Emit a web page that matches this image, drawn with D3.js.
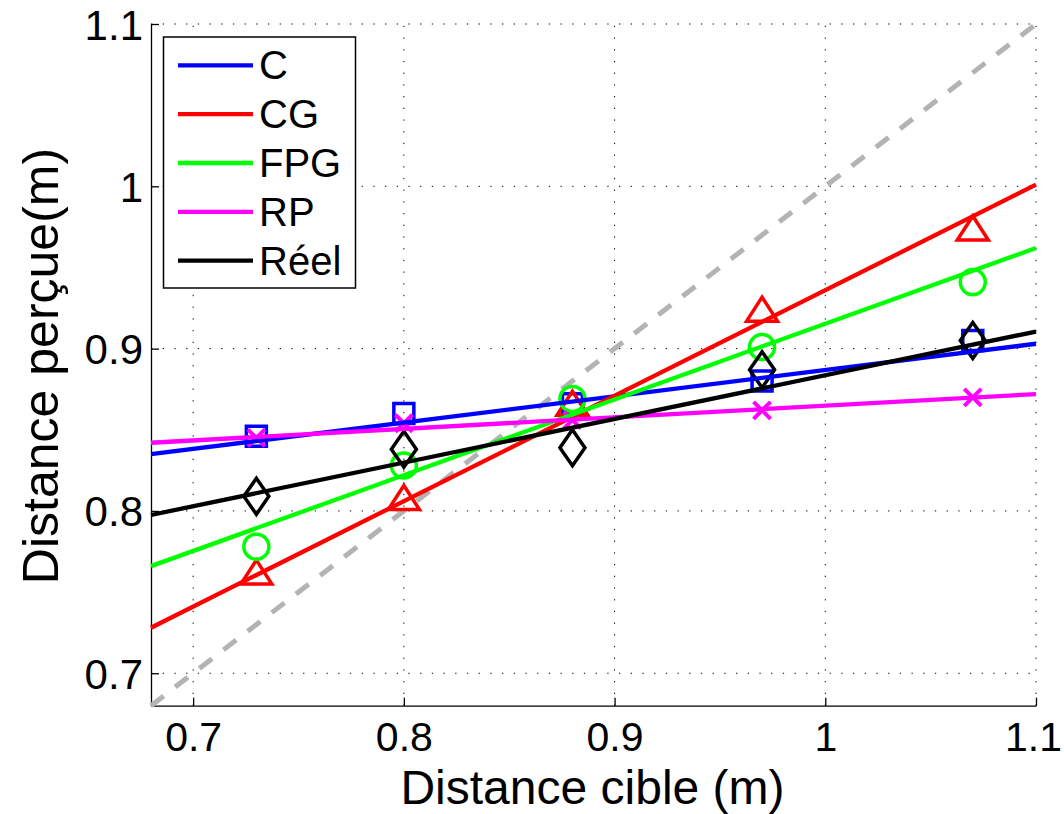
<!DOCTYPE html>
<html>
<head>
<meta charset="utf-8">
<script src="https://cdn.jsdelivr.net/npm/d3@7"></script>
<style>
  html, body { margin: 0; padding: 0; background: #fff; }
  svg { display: block; }
  text { font-family: "Liberation Sans", Arial, Helvetica, sans-serif; fill: #000; }
</style>
</head>
<body>
<svg id="chart" width="1064" height="814"></svg>
<script>
// ---- data ----
const targets = [0.73, 0.80, 0.88, 0.97, 1.07];
const seriesNames = ["C", "CG", "FPG", "RP", "Réel"];
const seriesColors = ["#0000ff", "#ff0000", "#00ff00", "#ff00ff", "#000000"];
const seriesMarkers = ["square", "triangle", "circle", "cross", "diamond"];
const valuesC = [0.846, 0.860, 0.866, 0.880, 0.905];
const valuesCG = [0.762, 0.808, 0.866, 0.924, 0.974];
const valuesFPG = [0.778, 0.828, 0.869, 0.901, 0.941];
const valuesRP = [0.845, 0.854, 0.856, 0.862, 0.870];
const valuesReel = [0.809, 0.838, 0.839, 0.887, 0.905];
// fitted lines, value at the left (0.68) and right (1.1) ends of the axis
const fitX = [0.68, 1.1];
const fitC = [0.835, 0.903];
const fitCG = [0.728, 1.001];
const fitFPG = [0.766, 0.962];
const fitRP = [0.842, 0.872];
const fitReel = [0.7975, 0.9105];
const identityLine = [0.68, 1.1];
const xTicks = [0.7, 0.8, 0.9, 1.0, 1.1];
const yTicks = [0.7, 0.8, 0.9, 1.0, 1.1];
const xLabel = "Distance cible (m)";
const yLabel = "Distance perçue(m)";

const allValues = [valuesC, valuesCG, valuesFPG, valuesRP, valuesReel];
const allFits = [fitC, fitCG, fitFPG, fitRP, fitReel];

// ---- layout ----
const L = 151, R = 1036, T = 24, B = 705.7;
const svg = d3.select("#chart");
const x = d3.scaleLinear().domain([0.68, 1.1]).range([L, R]);
const y = d3.scaleLinear().domain([0.68, 1.1]).range([B, T]);

// grid
const grid = svg.append("g");
grid.selectAll("line.gx").data(xTicks).join("line")
  .attr("x1", d => x(d)).attr("x2", d => x(d)).attr("y1", B).attr("y2", T)
  .attr("stroke", "#000").attr("stroke-width", 1).attr("stroke-dasharray", "1.3,10.4");
grid.selectAll("line.gy").data(yTicks).join("line")
  .attr("y1", d => y(d)).attr("y2", d => y(d)).attr("x1", L).attr("x2", R)
  .attr("stroke", "#000").attr("stroke-width", 1).attr("stroke-dasharray", "1.3,10.4");

// axes
const fmt = d => String(+d.toFixed(1));
const xAxis = d3.axisBottom(x).tickValues(xTicks).tickSizeInner(-8).tickSizeOuter(0)
  .tickPadding(0).tickFormat(fmt);
const gx = svg.append("g").attr("transform", `translate(0,${B})`).call(xAxis);
gx.select(".domain").attr("stroke", "#000").attr("stroke-width", 1.3);
gx.selectAll(".tick line").attr("stroke", "#000").attr("stroke-width", 1.3);
gx.selectAll(".tick text").attr("font-size", 41).attr("dy", null).attr("y", 45.5)
  .attr("dx", (d, i) => i === xTicks.length - 1 ? -3 : 0)
  .style("font-family", '"Liberation Sans", Arial, Helvetica, sans-serif');

const yAxis = d3.axisLeft(y).tickValues(yTicks).tickSizeInner(-8).tickSizeOuter(0)
  .tickPadding(0).tickFormat(fmt);
const gy = svg.append("g").attr("transform", `translate(${L},0)`).call(yAxis);
gy.select(".domain").attr("stroke", "#000").attr("stroke-width", 1.3);
gy.selectAll(".tick line").attr("stroke", "#000").attr("stroke-width", 1.3);
gy.selectAll(".tick text").attr("font-size", 42).attr("dy", null).attr("x", -8).attr("y", 15)
  .style("font-family", '"Liberation Sans", Arial, Helvetica, sans-serif');

// identity dashed line
svg.append("line")
  .attr("x1", x(identityLine[0])).attr("y1", y(identityLine[0]))
  .attr("x2", x(identityLine[1])).attr("y2", y(identityLine[1]))
  .attr("stroke", "#b3b3b3").attr("stroke-width", 5).attr("stroke-dasharray", "16,14.5");

// markers
function markerPath(type) {
  switch (type) {
    case "square": return "M-10,-10H10V10H-10Z";
    case "triangle": return "M0,-12.5L15.5,11.5L-15.5,11.5Z";
    case "circle": return "M-12.5,0A12.5,12.5 0 1,0 12.5,0A12.5,12.5 0 1,0 -12.5,0Z";
    case "cross": return "M-8.5,-8.5L8.5,8.5M-8.5,8.5L8.5,-8.5";
    case "diamond": return "M0,-18L12.5,0L0,18L-12.5,0Z";
  }
}
const marks = svg.append("g");
seriesNames.forEach((name, i) => {
  marks.append("g").selectAll("path").data(allValues[i]).join("path")
    .attr("transform", (d, j) => `translate(${x(targets[j])},${y(d)})`)
    .attr("d", markerPath(seriesMarkers[i]))
    .attr("fill", "none").attr("stroke", seriesColors[i])
    .attr("stroke-width", seriesMarkers[i] === "cross" ? 4 : 3.5)
    .attr("stroke-linejoin", "miter");
});

// fitted lines
const line = d3.line().x(d => x(d[0])).y(d => y(d[1]));
seriesNames.forEach((name, i) => {
  svg.append("path")
    .attr("d", line(fitX.map((xv, k) => [xv, allFits[i][k]])))
    .attr("fill", "none").attr("stroke", seriesColors[i]).attr("stroke-width", 4.3);
});

// axis labels
svg.append("text").attr("x", (L + R) / 2 - 1).attr("y", 803.5).attr("text-anchor", "middle")
  .attr("font-size", 48).text(xLabel);
svg.append("text").attr("transform", `translate(58,366) rotate(-90)`).attr("text-anchor", "middle")
  .attr("font-size", 50).text(yLabel);

// legend
const lg = svg.append("g");
const lgX = 163.5, lgY = 37, lgW = 192, lgH = 251;
lg.append("rect").attr("x", lgX).attr("y", lgY).attr("width", lgW).attr("height", lgH)
  .attr("fill", "#fff").attr("stroke", "#000").attr("stroke-width", 1.5);
seriesNames.forEach((name, i) => {
  const cy = 65.3 + i * 48.85;
  lg.append("line").attr("x1", 178).attr("x2", 253).attr("y1", cy).attr("y2", cy)
    .attr("stroke", seriesColors[i]).attr("stroke-width", 4.3);
  lg.append("text").attr("x", 259).attr("y", cy + 14).attr("font-size", 40).text(name);
});
</script>
</body>
</html>
